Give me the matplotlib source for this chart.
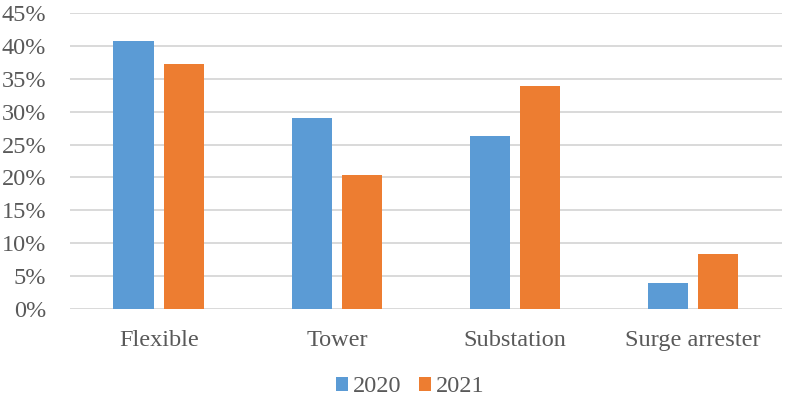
import numpy as np
import matplotlib.pyplot as plt
import matplotlib.ticker as ticker

# data (percent)
categories = ["Flexible", "Tower", "Substation", "Surge arrester"]
series_names = ["2020", "2021"]
values_2020 = [40.7, 29.0, 26.3, 4.0]
values_2021 = [37.2, 20.4, 33.9, 8.4]

BLUE = "#5B9BD5"
ORANGE = "#ED7D31"
TEXT = "#595959"
GRID = "#D9D9D9"

plt.rcParams["font.family"] = ["Liberation Serif", "DejaVu Serif"]

fig = plt.figure(figsize=(7.98, 4.0), dpi=100)
ax = fig.add_axes([0.0875, 0.2275, 0.8925, 0.74])

x = np.arange(len(categories))
w = 0.225
gap = 0.06
ax.bar(x - (w + gap) / 2, values_2020, width=w, color=BLUE, label=series_names[0], zorder=3)
ax.bar(x + (w + gap) / 2, values_2021, width=w, color=ORANGE, label=series_names[1], zorder=3)

ax.set_xlim(-0.5, len(categories) - 0.5)
ax.set_ylim(0, 45)
ax.yaxis.set_major_locator(ticker.MultipleLocator(5))
ax.yaxis.set_major_formatter(ticker.FuncFormatter(lambda v, p: f"{v:.0f}%"))
ax.set_xticks(x)
ax.set_xticklabels(categories)

ax.tick_params(axis="both", length=0, labelsize=17.5, colors=TEXT)
ax.tick_params(axis="x", pad=15)
ax.tick_params(axis="y", pad=17)
ax.grid(axis="y", color=GRID, linewidth=1.4, zorder=0)
for s in ax.spines.values():
    s.set_visible(False)

ax.legend(loc="center", bbox_to_anchor=(0.478, -0.263), ncol=2, frameon=False,
          fontsize=17.5, labelcolor=TEXT, handlelength=0.5, handleheight=0.5,
          handletextpad=0.2, columnspacing=0.75, borderpad=0.1)

plt.savefig("out.png", dpi=100)
